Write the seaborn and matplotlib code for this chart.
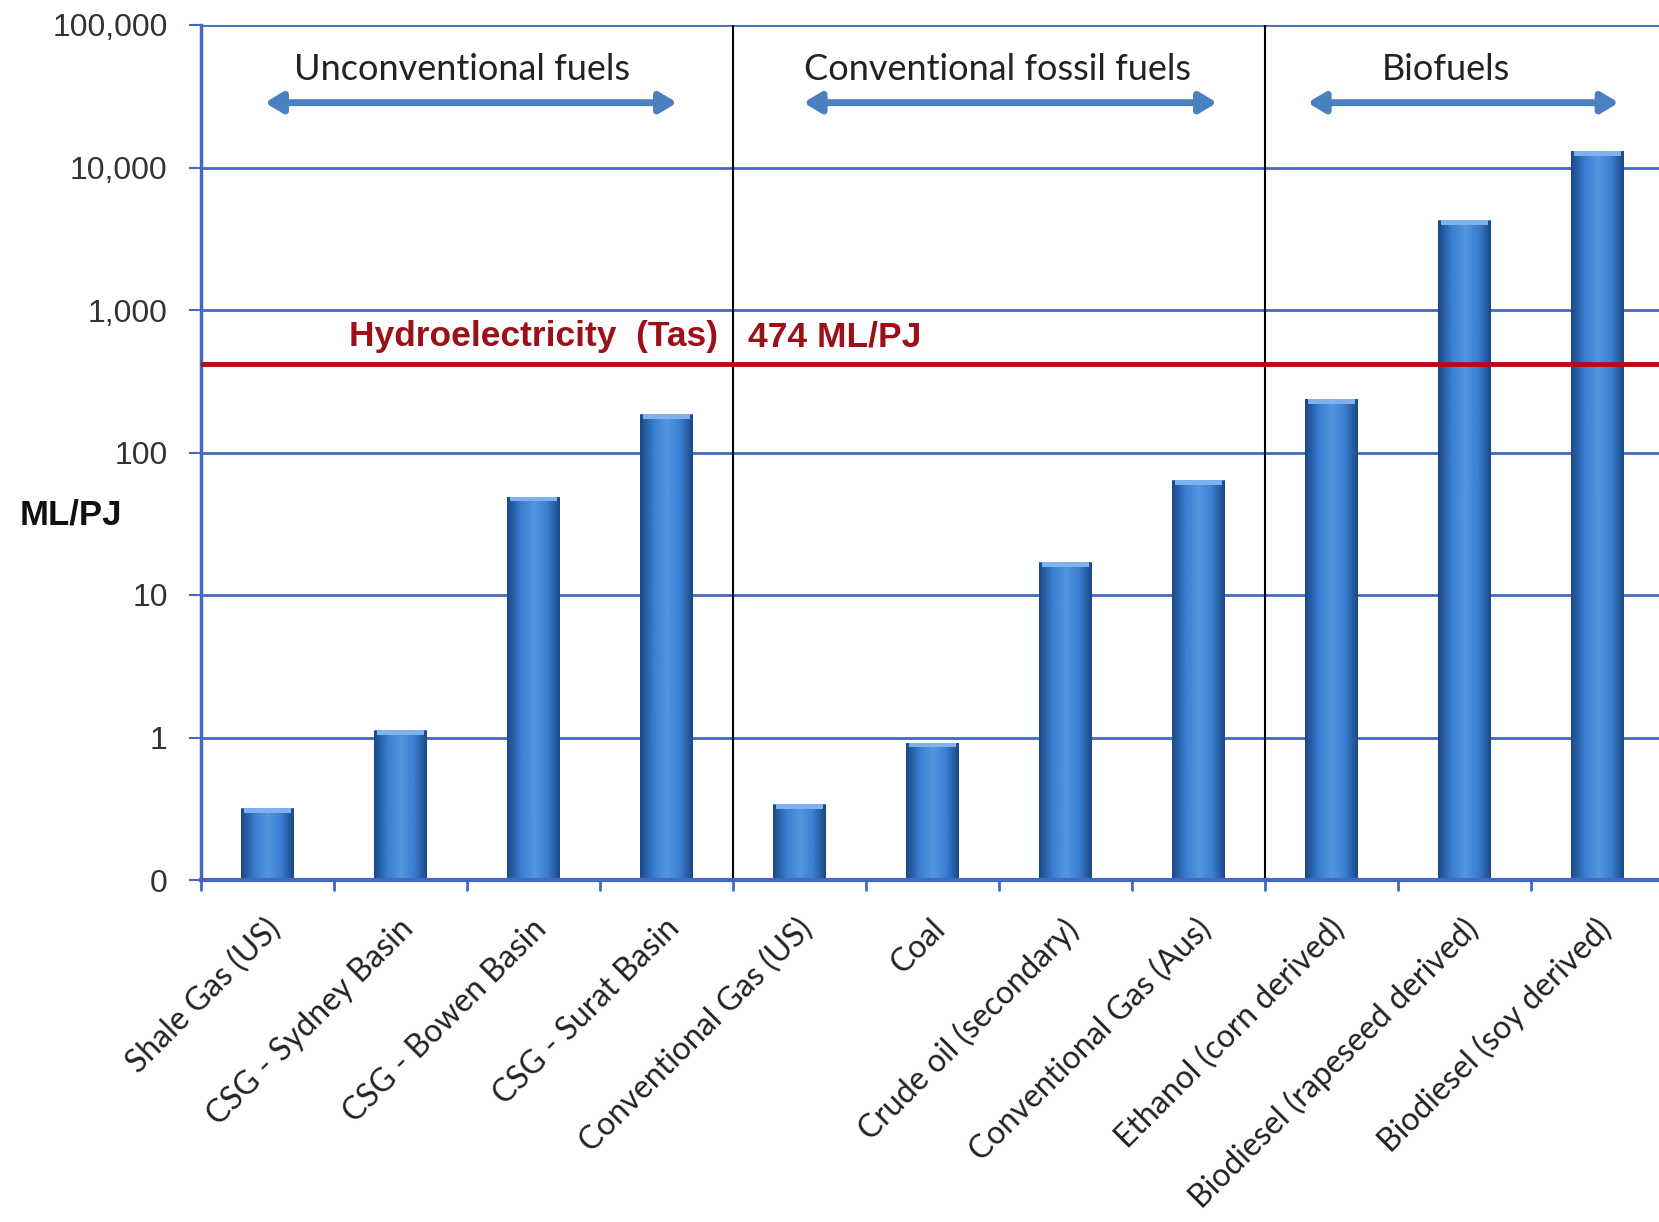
import numpy as np
import pandas as pd
import seaborn as sns
import matplotlib.pyplot as plt
from matplotlib.colors import LinearSegmentedColormap

# water intensity of energy sources, ML/PJ
fuels = ["Shale Gas (US)", "CSG - Sydney Basin", "CSG - Bowen Basin", "CSG - Surat Basin",
         "Conventional Gas (US)", "Coal", "Crude oil (secondary)", "Conventional Gas (Aus)",
         "Ethanol (corn derived)", "Biodiesel (rapeseed derived)", "Biodiesel (soy derived)"]
ml_per_pj = [0.32, 1.12, 49, 185, 0.34, 0.92, 17, 64, 238, 4260, 13100]

groups = ["Unconventional fuels", "Conventional fossil fuels", "Biofuels"]
group_sizes = [4, 4, 3]

hydro_line = 420          # where the red line sits on the chart
hydro_label = "474 ML/PJ"

ytick_vals = [0.1, 1, 10, 100, 1000, 10000, 100000]
ytick_labels = ["0", "1", "10", "100", "1,000", "10,000", "100,000"]

df = pd.DataFrame({"fuel": fuels, "value": ml_per_pj})

sns.set_style("white")
plt.rcParams["font.family"] = ["Liberation Sans", "DejaVu Sans"]

fig = plt.figure(figsize=(16.59, 12.22), dpi=100)
ax = fig.add_axes([201 / 1659, 1 - 880 / 1222, 1463 / 1659, 855 / 1222])

grid_blue = "#4468c4"
bar_blue = "#3b7bcb"

sns.barplot(data=df, x="fuel", y="value", color=bar_blue, width=0.40,
            saturation=1, linewidth=0, ax=ax)
ax.set_yscale("log")

# cylinder-ish shading on the bars
shade = LinearSegmentedColormap.from_list("shade", ["#1c4a8a", "#3a7fd2", "#5496de", "#3a7fd2", "#1a4683"])
grad = np.linspace(0, 1, 64).reshape(1, -1)
for p in ax.patches:
    x0, w, h = p.get_x(), p.get_width(), p.get_height()
    im = ax.imshow(grad, cmap=shade, aspect="auto", extent=(x0, x0 + w, 0.1, h),
                   zorder=p.get_zorder() + 0.1, interpolation="bicubic")
    im.set_clip_path(p)
    # light bevel on top
    ax.fill_between([x0 + w * 0.06, x0 + w * 0.94], h / 1.08, h, color="#7fb2ec",
                    zorder=p.get_zorder() + 0.2, lw=0)

ax.set_ylim(0.1, 100000)
ax.set_xlim(-0.5, len(fuels) - 0.5)

ax.set_yticks(ytick_vals)
ax.set_yticklabels(ytick_labels, fontsize=23, color="#333333")
ax.yaxis.set_minor_locator(plt.NullLocator())
ax.grid(axis="y", which="major", color=grid_blue, lw=2)
ax.set_axisbelow(True)

ax.set_xticks(np.arange(len(fuels)) - 0.02)
ax.set_xticklabels(fuels, rotation=45, ha="right", rotation_mode="anchor",
                   fontsize=23, family=["Lato", "DejaVu Sans"], color="#222222")
ax.tick_params(axis="x", length=0, pad=24)
ax.tick_params(axis="y", length=9, width=1.5, color=grid_blue, pad=15, left=True)
# boundary ticks below the axis
for b in np.arange(-0.5, len(fuels), 1.0):
    ax.plot([b, b], [0.1, 0.085], color=grid_blue, lw=2, clip_on=False)

for s in ["top", "right"]:
    ax.spines[s].set_visible(False)
ax.spines["left"].set_color(grid_blue)
ax.spines["left"].set_linewidth(2.5)
ax.spines["bottom"].set_color(grid_blue)
ax.spines["bottom"].set_linewidth(3)

# group separators, arrows and labels
arrow_spans = [(-0.02, 3.08), (4.03, 7.14), (7.82, 10.16)]
label_x = [1.46, 5.49, 8.86]
for end in np.cumsum(group_sizes)[:-1]:
    ax.axvline(end - 0.5, color="black", lw=1.5, zorder=1.5)
for g, (a0, a1), lx in zip(groups, arrow_spans, label_x):
    ax.annotate("", xy=(a0, 28500), xytext=(a1, 28500),
                arrowprops=dict(arrowstyle="<|-|>,head_length=1.0,head_width=0.6",
                                color="#4a7fc0", lw=5, shrinkA=0, shrinkB=0))
    ax.text(lx, 49000, g, ha="center", va="center", fontsize=26,
            family=["Lato", "DejaVu Sans"], color="#222222")

ax.axhline(hydro_line, color="#b00d14", lw=3.5, zorder=3)
ax.text(3.39, 650, "Hydroelectricity  (Tas)", ha="right", va="center", fontsize=25.5,
        fontweight="bold", color="#9c1018")
ax.text(3.61, 650, hydro_label, ha="left", va="center", fontsize=25.5,
        fontweight="bold", color="#9c1018")

ax.set_xlabel("")
ax.set_ylabel("")
fig.text(71 / 1659, 1 - 515 / 1222, "ML/PJ", ha="center", va="center",
         fontsize=25, fontweight="bold", color="#111111")

fig.savefig("out.png", dpi=100)
